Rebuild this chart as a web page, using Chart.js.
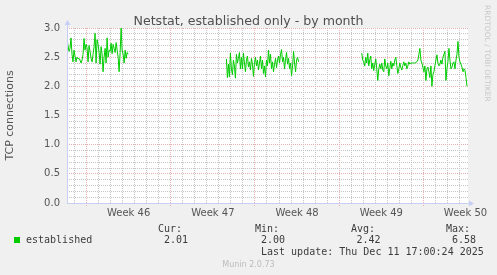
<!DOCTYPE html>
<html><head><meta charset="utf-8">
<script src="https://cdn.jsdelivr.net/npm/chart.js@4.4.1/dist/chart.umd.min.js"></script>
<style>html,body{margin:0;padding:0;background:#f0f0f0;overflow:hidden}canvas{display:block}</style>
</head><body><canvas id="c" width="497" height="275" style="width:497px;height:275px"></canvas>
<script>
// ---- data (hours since start of graph, 2-hour samples) ----
const chartTitle = 'Netstat, established only - by month';
const yTitle = 'TCP connections';
const seriesName = 'established';
const segmentStartHours = [0, 318, 588];
const sampleStepHours = 2;
const seg1 = [2.82,2.70,2.60,2.65,2.83,2.55,2.42,2.62,2.52,2.42,2.50,2.47,2.48,2.45,2.40,2.45,2.55,2.82,2.62,2.72,2.66,2.42,2.70,2.60,2.48,2.42,2.55,2.68,2.91,2.40,2.80,2.72,2.58,2.38,2.68,2.55,2.25,2.50,2.65,2.40,2.83,2.50,2.62,2.60,2.74,2.56,2.72,2.65,2.58,2.75,2.62,2.50,2.25,2.58,3.00,2.62,2.55,2.40,2.62,2.48,2.58,2.55];
const seg2 = [2.47,2.15,2.38,2.16,2.57,2.30,2.20,2.45,2.35,2.14,2.55,2.40,2.48,2.58,2.30,2.50,2.30,2.57,2.40,2.25,2.45,2.52,2.33,2.42,2.28,2.48,2.38,2.17,2.40,2.50,2.35,2.45,2.28,2.40,2.52,2.30,2.45,2.22,2.35,2.16,2.45,2.35,2.62,2.40,2.55,2.30,2.42,2.25,2.38,2.48,2.32,2.45,2.52,2.40,2.55,2.63,2.42,2.50,2.30,2.45,2.58,2.38,2.48,2.30,2.40,2.18,2.35,2.60,2.40,2.25,2.45,2.50,2.42];
const seg3 = [2.57,2.45,2.42,2.35,2.50,2.40,2.57,2.35,2.45,2.52,2.30,2.40,2.27,2.38,2.47,2.30,2.10,2.30,2.38,2.30,2.40,2.28,2.25,2.47,2.35,2.30,2.40,2.18,2.30,2.43,2.30,2.40,2.35,2.45,2.50,2.35,2.22,2.30,2.40,2.32,2.28,2.36,2.42,2.35,2.40,2.30,2.35,2.42,2.38,2.40,2.40,2.40,2.40,2.40,2.41,2.42,2.45,2.55,2.65,2.45,2.40,2.33,2.25,2.35,2.10,2.30,2.33,2.25,2.15,2.35,2.00,2.20,2.25,2.35,2.45,2.54,2.40,2.35,2.38,2.45,2.38,2.50,2.55,2.60,2.10,2.30,2.42,2.65,2.45,2.30,2.33,2.40,2.42,2.30,2.45,2.55,2.77,2.50,2.42,2.38,2.33,2.25,2.30,2.28,2.15,2.00];
const segments = [seg1, seg2, seg3];

const xMaxHours = 800;
const weekStartHours = [39, 207, 375, 543, 711];
const weekLabels = ['Week 46', 'Week 47', 'Week 48', 'Week 49', 'Week 50'];
const yTickValues = [0,0.1,0.2,0.3,0.4,0.5,0.6,0.7,0.8,0.9,1.0,1.1,1.2,1.3,1.4,1.5,1.6,1.7,1.8,1.9,2.0,2.1,2.2,2.3,2.4,2.5,2.6,2.7,2.8,2.9,3.0];
const yLabelValues = [0,0.5,1.0,1.5,2.0,2.5,3.0];

const legendHeaders = ['Cur:', 'Min:', 'Avg:', 'Max:'];
const legendValues = ['2.01', '2.00', '2.42', '6.58'];
const lastUpdate = 'Last update: Thu Dec 11 17:00:24 2025';
const sideText = 'RRDTOOL / TOBI OETIKER';
const footer = 'Munin 2.0.73';

// ---- build points ----
const points = [];
segments.forEach((seg, s) => {
  seg.forEach((v, i) => points.push({x: segmentStartHours[s] + i * sampleStepHours, y: v}));
  if (s < segments.length - 1) points.push({x: segmentStartHours[s] + seg.length * sampleStepHours, y: null});
});
const xTicks = [];
for (let h = 3; h <= xMaxHours; h += 12) xTicks.push(h);
const weekMid = weekStartHours.map(h => h + 84);

const MAJOR = '#eab0b0';
const MINOR = '#c6c6c6';

const deco = {
  id: 'deco',
  beforeDraw(chart) {
    const {ctx, chartArea: a} = chart;
    ctx.save();
    ctx.fillStyle = '#f0f0f0';
    ctx.fillRect(0, 0, chart.width, chart.height);
    ctx.fillStyle = '#ffffff';
    ctx.fillRect(a.left, a.top, a.right - a.left, a.bottom - a.top);
    ctx.restore();
  },
  afterDraw(chart) {
    const {ctx, chartArea: a} = chart;
    ctx.save();
    ctx.strokeStyle = '#c8cff5';
    ctx.fillStyle = '#c8cff5';
    ctx.lineWidth = 1;
    ctx.beginPath();
    ctx.moveTo(a.left + 0.5, a.bottom + 0.5);
    ctx.lineTo(a.left + 0.5, a.top - 3);
    ctx.moveTo(a.left, a.bottom + 0.5);
    ctx.lineTo(a.right + 2, a.bottom + 0.5);
    ctx.stroke();
    ctx.beginPath();
    ctx.moveTo(a.left - 2.5, a.top - 3); ctx.lineTo(a.left + 3.5, a.top - 3); ctx.lineTo(a.left + 0.5, a.top - 8); ctx.closePath(); ctx.fill();
    ctx.beginPath();
    ctx.moveTo(a.right + 1, a.bottom - 2.5); ctx.lineTo(a.right + 1, a.bottom + 3.5); ctx.lineTo(a.right + 6, a.bottom + 0.5); ctx.closePath(); ctx.fill();

    ctx.fillStyle = '#505050';
    ctx.font = '12.6px "DejaVu Sans"';
    ctx.textAlign = 'center';
    ctx.textBaseline = 'alphabetic';
    ctx.fillText(chartTitle, 248.5, 24.5);

    ctx.save();
    ctx.translate(485, 5);
    ctx.rotate(Math.PI / 2);
    ctx.fillStyle = '#c8c8c8';
    ctx.font = '7.5px "DejaVu Sans"';
    ctx.textAlign = 'left';
    ctx.fillText(sideText, 0, 0);
    ctx.restore();

    ctx.fillStyle = '#00cc00';
    ctx.fillRect(14, 237, 6, 6);
    ctx.fillStyle = '#3c3c3c';
    ctx.font = '10px "DejaVu Sans Mono"';
    ctx.textAlign = 'left';
    ctx.fillText(seriesName, 26, 243);
    const hx = [158, 255, 351, 446];
    const vx = [164, 261, 356.5, 452];
    legendHeaders.forEach((t, i) => ctx.fillText(t, hx[i], 232));
    legendValues.forEach((t, i) => ctx.fillText(t, vx[i], 243));
    ctx.fillText(lastUpdate, 261, 255);

    ctx.fillStyle = '#bcbcbc';
    ctx.font = '8px "DejaVu Sans"';
    ctx.textAlign = 'center';
    ctx.fillText(footer, 248.5, 267);
    ctx.restore();
  }
};

new Chart(document.getElementById('c'), {
  type: 'line',
  data: {
    datasets: [{
      label: seriesName,
      data: points,
      borderColor: '#00cc00',
      borderWidth: 1,
      pointRadius: 0,
      tension: 0,
      spanGaps: false,
      fill: false
    }]
  },
  options: {
    responsive: false,
    animation: false,
    devicePixelRatio: 1,
    layout: {padding: {top: 28, right: 29, bottom: 52, left: 0}},
    plugins: {legend: {display: false}, title: {display: false}, tooltip: {enabled: false}},
    scales: {
      x: {
        type: 'linear', min: 0, max: xMaxHours,
        afterBuildTicks(s) { s.ticks = xTicks.map(v => ({value: v})); },
        afterFit(s) { s.height = 20; },
        ticks: {
          autoSkip: false, maxRotation: 0, minRotation: 0, padding: 1,
          font: {family: 'DejaVu Sans', size: 10}, color: '#555555',
          callback(v) { const k = weekMid.indexOf(v); return k >= 0 ? weekLabels[k] : ''; }
        },
        grid: {
          drawTicks: true, tickLength: 3, lineWidth: 1, tickBorderDash: [1, 1],
          tickColor(c) {
            const v = c.tick ? c.tick.value : -1;
            return weekStartHours.includes(v) ? MAJOR : 'rgba(0,0,0,0)';
          },
          color(c) {
            const v = c.tick ? c.tick.value : -1;
            if (weekStartHours.includes(v)) return MAJOR;
            if ((v - 15) % 24 === 0) return MINOR;
            return 'rgba(0,0,0,0)';
          }
        },
        border: {display: false, dash: [1, 1]}
      },
      y: {
        min: 0, max: 3,
        afterBuildTicks(s) { s.ticks = yTickValues.map(v => ({value: v})); },
        afterFit(s) { s.width = 67; },
        ticks: {
          autoSkip: false, padding: 7,
          font: {family: 'DejaVu Sans', size: 10}, color: '#555555',
          callback(v) { return yLabelValues.some(l => Math.abs(l - v) < 1e-6) ? v.toFixed(1) : ''; }
        },
        grid: {
          drawTicks: false, lineWidth: 1,
          color(c) {
            const v = c.tick ? c.tick.value : 0;
            return yLabelValues.some(l => Math.abs(l - v) < 1e-6) ? MAJOR : MINOR;
          }
        },
        border: {display: false, dash: [1, 1]},
        title: {display: true, text: yTitle, font: {family: 'DejaVu Sans', size: 11}, color: '#555555', padding: {top: 4, bottom: 0}}
      }
    }
  },
  plugins: [deco]
});
</script>
</body></html>
